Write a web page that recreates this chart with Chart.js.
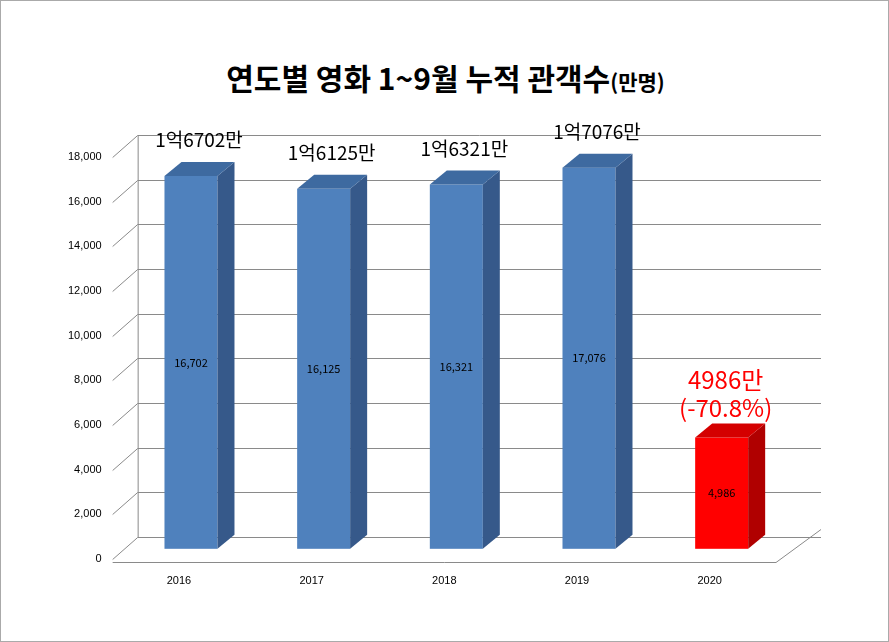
<!DOCTYPE html>
<html><head><meta charset="utf-8">
<script src="https://cdn.jsdelivr.net/npm/chart.js@4"></script>
<style>
html,body{margin:0;padding:0;background:#fff;}
#wrap{position:relative;width:889px;height:642px;box-sizing:border-box;border:1px solid #aaa;font-family:"Noto Sans CJK KR",sans-serif;}
#title{position:absolute;top:54px;left:0;width:889px;text-align:center;font-size:30px;font-weight:bold;color:#000;}
#title span{font-size:21px;}
canvas{position:absolute;left:0;top:0;}
</style></head><body>
<div id="wrap"><div id="title">연도별 영화 1~9월 누적 관객수<span>(만명)</span></div><canvas id="c" width="889" height="642"></canvas></div>
<script>
const years = ["2016","2017","2018","2019","2020"];
const audience = [16702,16125,16321,17076,4986];
const topLabels = [["1억6702만"],["1억6125만"],["1억6321만"],["1억7076만"],["4986만","(-70.8%)"]];
const yTicks = [0,2000,4000,6000,8000,10000,12000,14000,16000,18000];

const plugin = {
  id:'bars3d',
  beforeDatasetsDraw(chart){
    const ctx=chart.ctx, ya=chart.scales.y, xa=chart.scales.x, a=chart.chartArea;
    const dx=25, dy=22;
    ctx.save();
    ctx.strokeStyle='#8a8a8a'; ctx.lineWidth=1;
    yTicks.forEach(t=>{
      const y=Math.round(ya.getPixelForValue(t))+0.5;
      ctx.beginPath(); ctx.moveTo(a.left,y); ctx.lineTo(a.left+dx,y-dy); ctx.lineTo(a.right+dx+20,y-dy); ctx.stroke();
    });
    const yT=Math.round(ya.getPixelForValue(18000))+0.5, y0=Math.round(ya.getPixelForValue(0))+0.5;
    ctx.beginPath(); ctx.moveTo(a.left+dx+0.5,yT-dy); ctx.lineTo(a.left+dx+0.5,y0-dy); ctx.stroke();
    ctx.beginPath(); ctx.moveTo(a.left,y0+3); ctx.lineTo(a.right,y0+3); ctx.lineTo(a.right+dx+20,y0-dy-8); ctx.stroke();
    const w=53, bdx=17, bdy=14;
    audience.forEach((v,i)=>{
      const red=i===4;
      const cx=xa.getPixelForValue(i)+12;
      const l=cx-w/2, r=cx+w/2;
      const base=ya.getPixelForValue(0)-10, top=ya.getPixelForValue(v)-10;
      ctx.fillStyle=red?'#ff0000':'#4f81bd'; ctx.fillRect(l,top,w,base-top);
      ctx.fillStyle=red?'#b00000':'#36598a';
      ctx.beginPath(); ctx.moveTo(r,top); ctx.lineTo(r+bdx,top-bdy); ctx.lineTo(r+bdx,base-bdy); ctx.lineTo(r,base); ctx.fill();
      ctx.fillStyle=red?'#d40000':'#3e6aa0';
      ctx.beginPath(); ctx.moveTo(l,top); ctx.lineTo(l+bdx,top-bdy); ctx.lineTo(r+bdx,top-bdy); ctx.lineTo(r,top); ctx.fill();
      ctx.fillStyle='#000'; ctx.font='11px "Noto Sans CJK KR"'; ctx.textAlign='center'; ctx.textBaseline='middle';
      ctx.fillText(v.toLocaleString('en-US'),cx,(top+base)/2);
      const lab=topLabels[i];
      if(red){
        ctx.fillStyle='#ff0000'; ctx.font='24px "Noto Sans CJK KR"';
        ctx.fillText(lab[0],cx+4,top-58); ctx.fillText(lab[1],cx+4,top-30);
      } else {
        ctx.font='19px "Noto Sans CJK KR"';
        ctx.fillText(lab[0],cx+8,top-36);
      }
    });
    ctx.restore();
  }
};

new Chart(document.getElementById('c'),{
  type:'bar',
  data:{labels:years,datasets:[{data:audience,backgroundColor:'rgba(0,0,0,0)'}]},
  options:{
    responsive:false,animation:false,
    layout:{padding:{left:64,top:156,right:114,bottom:47}},
    plugins:{legend:{display:false},tooltip:{enabled:false},title:{display:false}},
    scales:{
      y:{min:0,max:18000,ticks:{stepSize:2000,color:'#000',font:{size:11,family:'Liberation Sans'}},grid:{display:false},border:{display:false}},
      x:{ticks:{color:'#000',padding:8,font:{size:11,family:'Liberation Sans'}},grid:{display:false},border:{display:false}}
    }
  },
  plugins:[plugin]
});
</script></body></html>
